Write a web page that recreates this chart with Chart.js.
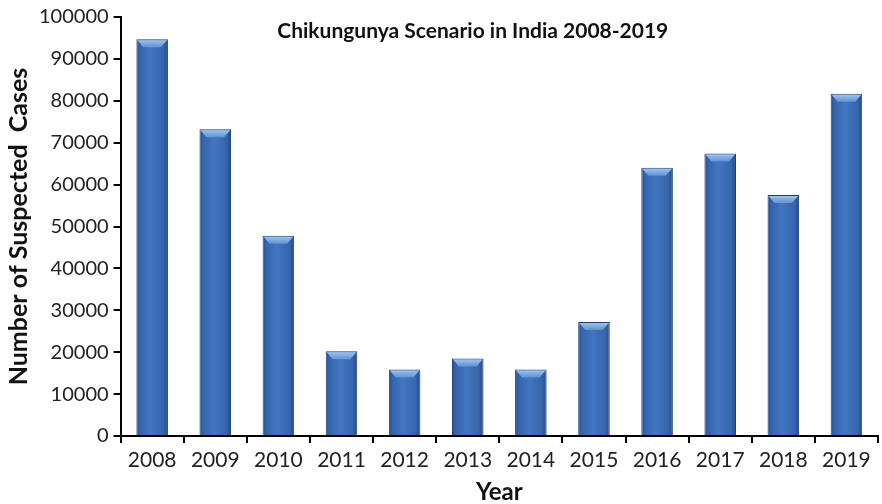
<!DOCTYPE html>
<html>
<head>
<meta charset="utf-8">
<script src="https://cdn.jsdelivr.net/npm/chart.js@4.4.1/dist/chart.umd.min.js"></script>
<style>
  html, body { margin: 0; padding: 0; background: #fff; }
  #wrap { width: 882px; height: 504px; position: relative; }
</style>
</head>
<body>
<div id="wrap"><canvas id="chart"></canvas></div>
<script>
// data
const years = ["2008", "2009", "2010", "2011", "2012", "2013", "2014", "2015", "2016", "2017", "2018", "2019"];
const suspectedCases = [94700, 73200, 47800, 20200, 15900, 18500, 15900, 27200, 64000, 67400, 57500, 81700];
const yTicks = [0, 10000, 20000, 30000, 40000, 50000, 60000, 70000, 80000, 90000, 100000];
const chartTitle = "Chikungunya Scenario in India 2008-2019";

const FONT = "Lato, 'Open Sans', sans-serif";

// horizontal shading across each bar, like the old office 3D style
function barFill(ctx) {
  const chart = ctx.chart;
  const xs = chart.scales.x;
  if (!xs || !chart.chartArea) return "#3a6cb4";
  const cx = xs.getPixelForValue(ctx.dataIndex);
  const w = (xs.width / years.length) * 0.5;
  const g = chart.ctx.createLinearGradient(cx - w / 2, 0, cx + w / 2, 0);
  g.addColorStop(0, "#244f8f");
  g.addColorStop(0.12, "#3465ad");
  g.addColorStop(0.45, "#4376c0");
  g.addColorStop(0.85, "#3566ae");
  g.addColorStop(1, "#23498a");
  return g;
}

// light bevel on the top of each bar + title inside the plot
const bevelAndTitle = {
  id: "bevelAndTitle",
  afterDatasetsDraw(chart) {
    const c = chart.ctx;
    chart.getDatasetMeta(0).data.forEach(bar => {
      const { x, y, width } = bar.getProps(["x", "y", "width"], true);
      const l = x - width / 2, r = x + width / 2;
      const g = c.createLinearGradient(0, y, 0, y + 8);
      g.addColorStop(0, "#a9c8ee");
      g.addColorStop(1, "#5f91d2");
      c.save();
      c.beginPath();
      c.moveTo(l + 1, y + 1);
      c.lineTo(r - 1, y + 1);
      c.lineTo(r - 7, y + 8);
      c.lineTo(l + 7, y + 8);
      c.closePath();
      c.fillStyle = g;
      c.fill();
      c.restore();
    });
    const a = chart.chartArea;
    c.save();
    c.font = "bold 21px " + FONT;
    c.fillStyle = "#111";
    c.textAlign = "center";
    c.textBaseline = "middle";
    c.fillText(chartTitle, a.left + a.width * 0.465, a.top + 14);
    c.restore();
  }
};

new Chart(document.getElementById("chart"), {
  type: "bar",
  data: {
    labels: years,
    datasets: [{
      data: suspectedCases,
      backgroundColor: barFill,
      borderColor: "#1f3f74",
      borderWidth: 1,
      barPercentage: 0.5,
      categoryPercentage: 1.0
    }]
  },
  options: {
    responsive: true,
    maintainAspectRatio: false,
    animation: false,
    layout: { padding: { top: 9, right: 4, left: 4, bottom: -3 } },
    plugins: {
      legend: { display: false },
      tooltip: { enabled: false }
    },
    scales: {
      x: {
        offset: true,
        grid: { offset: true, drawOnChartArea: false, drawTicks: true, tickLength: 7, color: "#000", lineWidth: 2 },
        border: { display: true, color: "#000", width: 2 },
        ticks: { color: "#222", font: { family: FONT, size: 21 }, padding: 5 },
        title: { display: true, text: "Year", color: "#111", font: { family: FONT, size: 24, weight: "bold" }, padding: { top: 0, bottom: 0 } }
      },
      y: {
        min: 0,
        max: 100000,
        afterBuildTicks(axis) { axis.ticks = yTicks.map(v => ({ value: v })); },
        grid: { drawOnChartArea: false, drawTicks: true, tickLength: 7, color: "#000", lineWidth: 2 },
        border: { display: true, color: "#000", width: 2 },
        ticks: { color: "#222", font: { family: FONT, size: 20 }, padding: 5, callback: v => String(v) },
        title: { display: true, text: "Number of Suspected  Cases", color: "#111", font: { family: FONT, size: 25, weight: "bold" }, padding: { top: 0, bottom: 0 } }
      }
    }
  },
  plugins: [bevelAndTitle]
});
</script>
</body>
</html>
